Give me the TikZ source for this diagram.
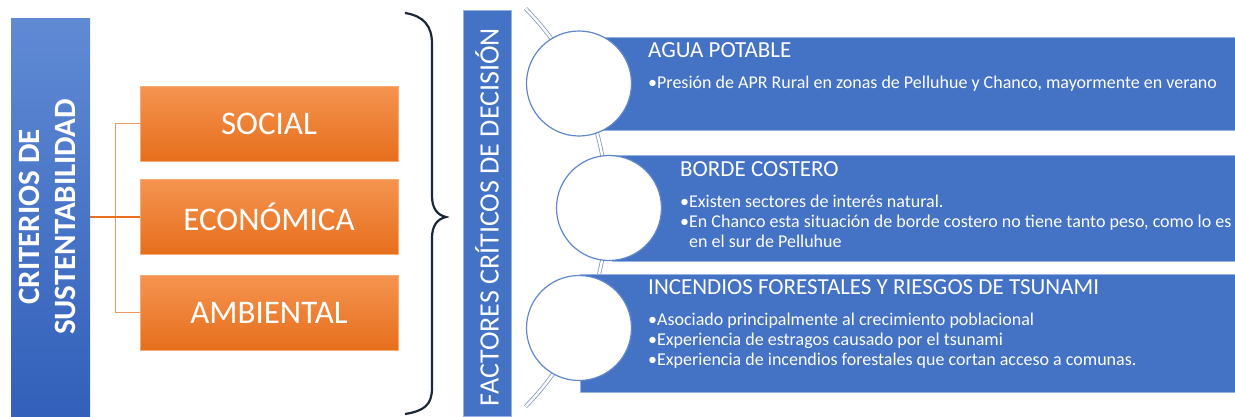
\documentclass[tikz,border=0pt]{standalone}
\usepackage{fontspec}
\usepackage{graphicx}
\setmainfont{Carlito}
\usetikzlibrary{positioning}
\definecolor{CritTop}{RGB}{96,138,212}
\definecolor{CritBot}{RGB}{50,96,186}
\definecolor{OrTop}{RGB}{245,148,80}
\definecolor{OrBot}{RGB}{230,110,28}
\definecolor{OrEdge}{RGB}{248,172,115}
\definecolor{LinkOr}{RGB}{242,150,95}
\definecolor{FcBlue}{RGB}{68,114,196}
\definecolor{FcEdge}{RGB}{150,178,226}
\definecolor{BraceNavy}{RGB}{28,40,58}
\definecolor{SpineBlue}{RGB}{130,152,196}

\begin{document}
\begin{tikzpicture}[x=1pt,y=-1pt,
    critbar/.style={rectangle, minimum width=79, minimum height=398, inner sep=0,
        top color=CritTop, bottom color=CritBot, text=white,
        font=\bfseries\fontsize{31}{36}\selectfont},
    critbox/.style={rectangle, minimum width=258, minimum height=75,
        top color=OrTop, bottom color=OrBot, draw=OrEdge, line width=0.8,
        text=white, font=\fontsize{33}{38}\selectfont},
    link/.style={LinkOr, line width=1.4},
    linkmain/.style={OrBot, line width=2.2},
    fcbar/.style={rectangle, minimum width=48, minimum height=406, inner sep=0,
        fill=FcBlue, draw=FcEdge, line width=0.6, text=white,
        font=\fontsize{28}{34}\selectfont},
    fcbox/.style={fill=FcBlue, draw=FcEdge, line width=0.8},
    fccircle/.style={circle, minimum size=105, inner sep=0, fill=white,
        draw=FcBlue!85!white, line width=1.2},
    spine/.style={SpineBlue, line width=0.8, double=white, double distance=2.4},
    fctitle/.style={anchor=base west, inner sep=0, text=white,
        font=\fontsize{23}{27}\selectfont},
    fcitem/.style={anchor=north west, inner sep=0, text=white, align=left,
        font=\fontsize{18}{20.2}\selectfont}]
\useasboundingbox (0,0) rectangle (1235,416);

% criterios de sustentabilidad
\node[critbar] (criterios) at (50.5,217)
    {\rotatebox{90}{\begin{tabular}{@{}c@{}}CRITERIOS DE\\SUSTENTABILIDAD\end{tabular}}};
\node[critbox] (social) at (269,123.5) {SOCIAL};
\node[critbox] (economica) at (269,217) {ECONÓMICA};
\node[critbox] (ambiental) at (269,312.5) {AMBIENTAL};
\coordinate (split) at ([xshift=25]criterios.east);
\draw[link] (split) |- (social.west);
\draw[link] (split) |- (ambiental.west);
\draw[linkmain] (criterios.east) -- (economica.west);

% llave
\draw[BraceNavy, line width=2.2] (405,13) .. controls (424,16) and (432,26) .. (432,44)
    -- (432,196) .. controls (432,208) and (437,215) .. (446,217)
    .. controls (437,219) and (432,226) .. (432,238)
    -- (432,388) .. controls (432,405) and (424,411) .. (405,414);

% factores criticos de decision
\node[fcbar] (factores) at (487,213)
    {\rotatebox{90}{FACTORES CRÍTICOS DE DECISIÓN\hspace*{8pt}}};
\draw[spine] plot[domain=-44.5:44.5, samples=90] ({323+284*cos(\x)},{207.5+284*sin(\x)});
\draw[fcbox] (603,37) rectangle (1245,130);
\draw[fcbox] (612,155) rectangle (1245,261);
\draw[fcbox] (580,274) rectangle (1245,392);
\node[fccircle] (agua-c) at (579,83.5) {};
\node[fccircle] (borde-c) at (609,208) {};
\node[fccircle] (incendios-c) at (579,328) {};

\node[fctitle] (agua) at (648,57.3) {AGUA POTABLE};
\node[fcitem] (agua-list) at (648,76) {•Presión de APR Rural en zonas de Pelluhue y Chanco, mayormente en verano};

\node[fctitle] (borde) at (680,176) {BORDE COSTERO};
\node[fcitem] (borde-list) at (680,194.3) {•Existen sectores de interés natural.\\
    •En Chanco esta situación de borde costero no tiene tanto peso, como lo es\\
    \phantom{•}en el sur de Pelluhue};

\node[fctitle] (incendios) at (648,294) {INCENDIOS FORESTALES Y RIESGOS DE TSUNAMI};
\node[fcitem] (incendios-list) at (648,312.6) {•Asociado principalmente al crecimiento poblacional\\
    •Experiencia de estragos causado por el tsunami\\
    •Experiencia de incendios forestales que cortan acceso a comunas.};
\end{tikzpicture}
\end{document}
